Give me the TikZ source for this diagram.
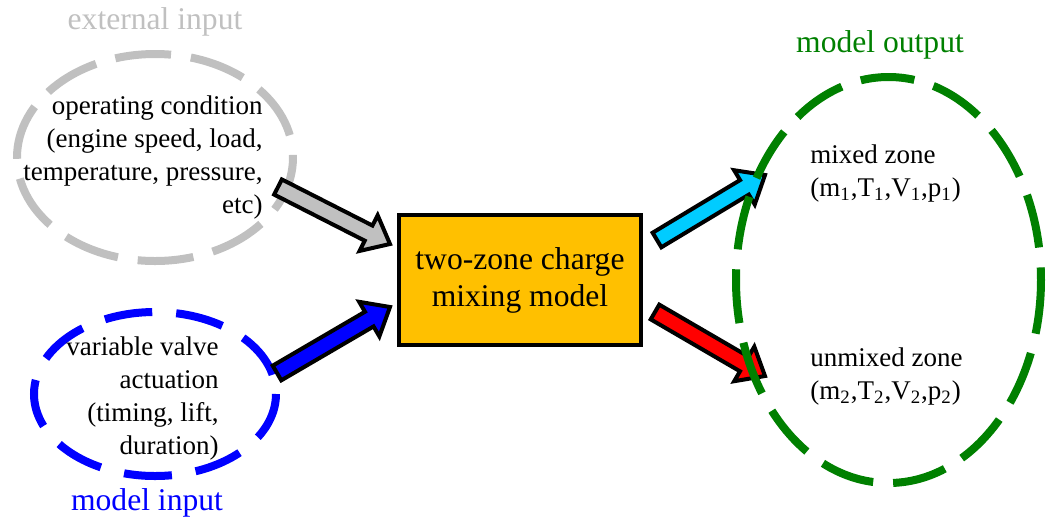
\documentclass[tikz,border=0pt]{standalone}
\usepackage{fontspec}
\setmainfont{Liberation Serif}
\usetikzlibrary{calc}
\definecolor{cgray}{RGB}{192,192,192}
\definecolor{cgreen}{RGB}{0,128,0}
\definecolor{ccyan}{RGB}{0,204,255}
\definecolor{corange}{RGB}{255,192,0}
\newcommand{\blockarrow}[3]{%
  \coordinate (#1-h) at ($(#2)!12pt!(#1)$);
  \draw[line width=2pt, line join=miter, fill=#3]
    ($(#1)!4.25pt!90:(#2)$) -- ($(#1-h)!4.25pt!90:(#2)$) -- ($(#1-h)!10pt!90:(#2)$) -- (#2)
    -- ($(#1-h)!10pt!-90:(#2)$) -- ($(#1-h)!4.25pt!-90:(#2)$) -- ($(#1)!4.25pt!-90:(#2)$) -- cycle;}
\begin{document}
\begin{tikzpicture}[x=0.5pt,y=-0.5pt,
  body/.style={font=\fontsize{13.5}{16.5}\selectfont, inner sep=0pt},
  head/.style={font=\fontsize{15.8}{18.5}\selectfont, inner sep=0pt},
  ring/.style={line width=4pt, dash pattern=on 28pt off 10pt}]
\useasboundingbox (0,0) rectangle (1046,521);
% headers
\node[head, text=cgray] (hext) at (155,22) {external input};
\node[head, text=blue] (hin) at (147,503) {model input};
\node[head, text=cgreen] (hout) at (880,45) {model output};
% ellipses left
\draw[ring, cgray] (155,157.5) ellipse [x radius=138, y radius=103.5];
\draw[ring, blue, dash pattern=on 24pt off 12pt] (155,394) ellipse [x radius=121, y radius=82];
% texts
\node[body, align=right, anchor=east] (op) at (263,157) {operating condition\\(engine speed, load,\\temperature, pressure,\\etc)};
\node[body, align=right, anchor=east] (vva) at (219,398) {variable valve\\actuation\\(timing, lift,\\duration)};
% box
\node[draw, line width=2pt, fill=corange, minimum width=121pt, minimum height=65pt,
      align=center, font=\fontsize{15.8}{18.5}\selectfont] (box) at (520,280) {two-zone charge\\mixing model};
% arrows
\coordinate (gt) at (278,187); \coordinate (gp) at (390,244);
\coordinate (bt) at (277,373); \coordinate (bp) at (390,307);
\coordinate (ct) at (657,240); \coordinate (cp) at (765,175);
\coordinate (rt) at (655,312); \coordinate (rp) at (765,376);
\blockarrow{gt}{gp}{cgray}
\blockarrow{bt}{bp}{blue}
\blockarrow{ct}{cp}{ccyan}
\blockarrow{rt}{rp}{red}
% output ellipse
\draw[ring, cgreen, dash pattern=on 27pt off 10pt] (888.5,280) ellipse [x radius=152.5, y radius=203];
\node[body, align=left, anchor=west] (mz) at (810,173.5) {mixed zone\\(m\textsubscript{1},T\textsubscript{1},V\textsubscript{1},p\textsubscript{1})};
\node[body, align=left, anchor=west] (uz) at (810,376.5) {unmixed zone\\(m\textsubscript{2},T\textsubscript{2},V\textsubscript{2},p\textsubscript{2})};
\end{tikzpicture}
\end{document}
